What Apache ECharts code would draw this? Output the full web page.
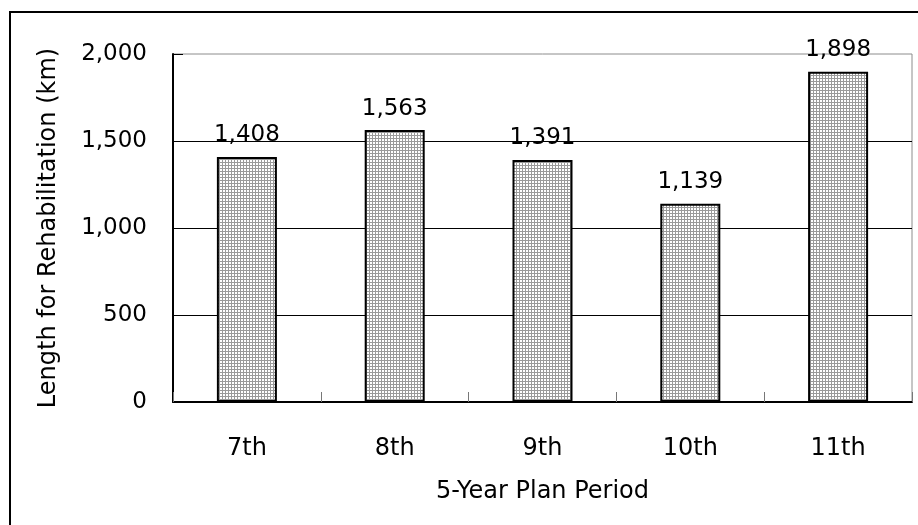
<!DOCTYPE html>
<html>
<head>
<meta charset="utf-8">
<script src="https://cdn.jsdelivr.net/npm/echarts@6/dist/echarts.min.js"></script>
<style>
  html, body { margin: 0; padding: 0; background: #fff; }
  #chart { width: 918px; height: 525px; }
</style>
</head>
<body>
<div id="chart"></div>
<script>
// Five-year plan periods and rehabilitated length (km)
const periods = ['7th', '8th', '9th', '10th', '11th'];
const lengths = [1408, 1563, 1391, 1139, 1898];
const yTicks = [0, 500, 1000, 1500, 2000];

const FONT = '"DejaVu Sans", "Liberation Sans", sans-serif';

// Fine crosshatch fill for the bars
function hatchPattern() {
  const c = document.createElement('canvas');
  c.width = 3; c.height = 3;
  const g = c.getContext('2d');
  g.fillStyle = '#ffffff';
  g.fillRect(0, 0, 3, 3);
  g.fillStyle = '#9a9a9a';
  g.fillRect(0, 0, 3, 1);
  g.fillRect(0, 0, 1, 3);
  return c;
}

const fmt = v => v.toLocaleString('en-US');

const chart = echarts.init(document.getElementById('chart'), null, { renderer: 'canvas' });
chart.setOption({
  animation: false,
  backgroundColor: '#fff',
  grid: {
    left: 173, right: 6, top: 54, bottom: 123,
    show: true, borderColor: '#8c8c8c', borderWidth: 1
  },
  graphic: [{
    type: 'rect',
    shape: { x: 10, y: 12, width: 1000, height: 600 },
    style: { fill: 'none', stroke: '#000', lineWidth: 2 },
    silent: true
  }],
  xAxis: {
    type: 'category',
    data: periods,
    name: '5-Year Plan Period',
    nameLocation: 'middle',
    nameGap: 78,
    nameTextStyle: { fontFamily: FONT, fontSize: 24, color: '#000' },
    axisLine: { lineStyle: { color: '#000', width: 2 } },
    axisTick: { show: true, inside: true, length: 10, alignWithLabel: false, lineStyle: { color: '#777' } },
    axisLabel: { fontFamily: FONT, fontSize: 24, color: '#000', margin: 35 }
  },
  yAxis: {
    type: 'value',
    min: yTicks[0],
    max: yTicks[yTicks.length - 1],
    interval: 500,
    name: 'Length for Rehabilitation (km)',
    nameLocation: 'middle',
    nameGap: 112,
    nameTextStyle: { fontFamily: FONT, fontSize: 24, color: '#000' },
    axisLine: { show: true, lineStyle: { color: '#000', width: 2 } },
    axisTick: { show: true, inside: true, length: 10, lineStyle: { color: '#000' } },
    axisLabel: { fontFamily: FONT, fontSize: 23, color: '#000', margin: 26, formatter: fmt },
    splitLine: { show: true, showMaxLine: false, lineStyle: { color: '#000', width: 1 } }
  },
  series: [{
    type: 'bar',
    data: lengths,
    barWidth: '40.6%',
    itemStyle: {
      color: { image: hatchPattern(), repeat: 'repeat' },
      borderColor: '#000',
      borderWidth: 2
    },
    label: {
      show: true,
      position: 'top',
      distance: 10,
      fontFamily: FONT,
      fontSize: 23,
      color: '#000',
      formatter: p => fmt(p.value)
    }
  }]
});
</script>
</body>
</html>
